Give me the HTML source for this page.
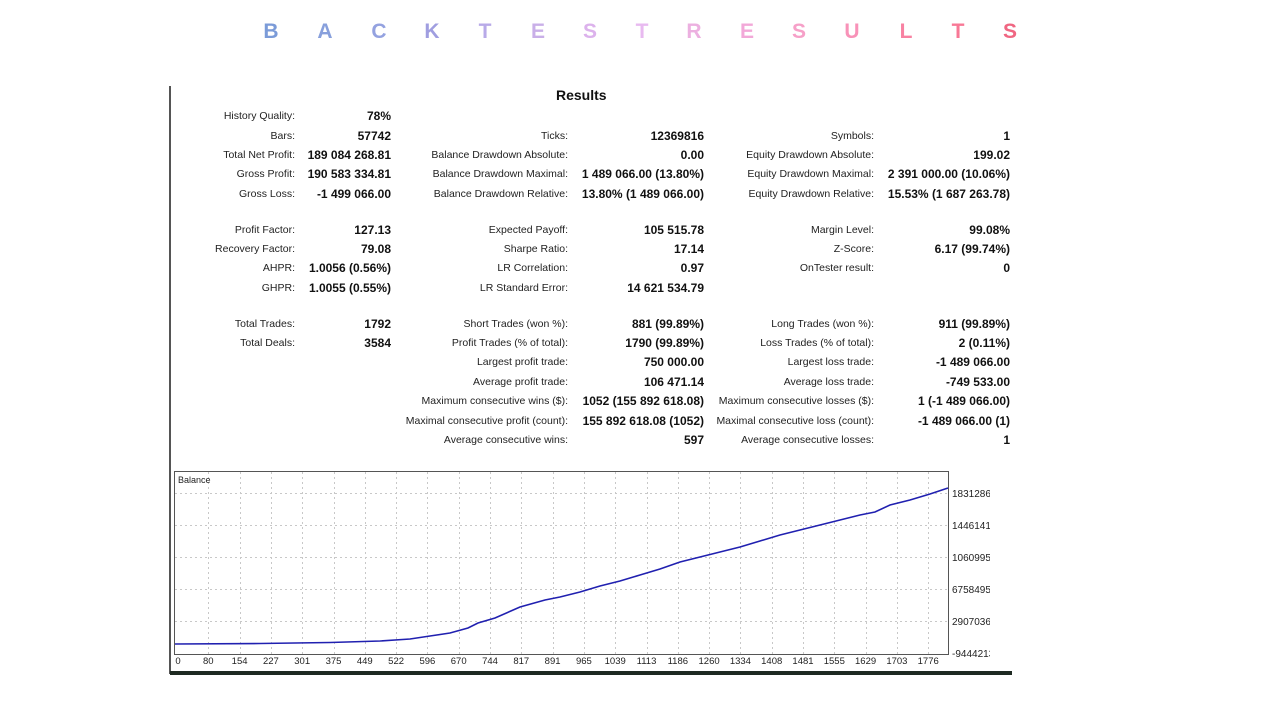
<!DOCTYPE html>
<html><head><meta charset="utf-8"><style>
body{margin:0;width:1280px;height:720px;background:#fff;position:relative;overflow:hidden;font-family:"Liberation Sans","DejaVu Sans",sans-serif;}
.t{position:absolute;top:20px;font-size:21px;font-weight:bold;transform:translateX(-50%);}
.l,.v{position:absolute;font-size:10.5px;color:#222;white-space:nowrap;line-height:13px;}
.v{font-weight:bold;color:#111;font-size:12px;}
</style></head><body>
<div class="t" style="left:271px;color:#7b9bd8">B</div>
<div class="t" style="left:325px;color:#88a0dc">A</div>
<div class="t" style="left:379px;color:#94a2e0">C</div>
<div class="t" style="left:432px;color:#a09ee0">K</div>
<div class="t" style="left:485px;color:#b8aae8">T</div>
<div class="t" style="left:538px;color:#c9afe8">E</div>
<div class="t" style="left:590px;color:#dcb2ec">S</div>
<div class="t" style="left:642px;color:#e8baf0">T</div>
<div class="t" style="left:694px;color:#ecb0e0">R</div>
<div class="t" style="left:747px;color:#f2a8d8">E</div>
<div class="t" style="left:799px;color:#f6a0c8">S</div>
<div class="t" style="left:852px;color:#f892b8">U</div>
<div class="t" style="left:906px;color:#f882a2">L</div>
<div class="t" style="left:958px;color:#f87896">T</div>
<div class="t" style="left:1010px;color:#f06682">S</div>

<div style="position:absolute;left:169px;top:86px;width:2px;height:588px;background:#555"></div>
<div style="position:absolute;left:170px;top:671px;width:842px;height:4px;background:#1e2a22"></div>
<div style="position:absolute;left:556px;top:87px;font-size:14px;font-weight:bold;color:#111">Results</div>

<div id="tbl"></div>

<svg style="position:absolute;left:0;top:0" width="1280" height="720">
<defs><clipPath id="cp"><rect x="950" y="470" width="40" height="200"/></clipPath></defs>
<rect x="174.5" y="471.5" width="774" height="183" fill="#fff" stroke="#555"/>
<g stroke="#c8c8c8" stroke-dasharray="2,3">
<line x1="175" x2="948" y1="493.5" y2="493.5"/><line x1="175" x2="948" y1="525.5" y2="525.5"/>
<line x1="175" x2="948" y1="557.5" y2="557.5"/><line x1="175" x2="948" y1="589.5" y2="589.5"/>
<line x1="175" x2="948" y1="621.5" y2="621.5"/>
</g>
<g id="vg" stroke="#c8c8c8" stroke-dasharray="2,3"></g>
<polyline fill="none" stroke="#2020b0" stroke-width="1.6" points="175,644 260,643.5 330,642.5 380,641 410,639 430,636 450,633 468,628 478,623 495,618 520,607 545,600 560,597 580,592 600,586 620,581 640,575 660,569 680,562 700,557 720,552 740,547 760,541 780,535 800,530 820,525 840,520 860,515 875,512 890,505 910,500 930,494 948,488"/>
<text x="178" y="483" font-size="9" fill="#222" font-family="Liberation Sans">Balance</text>
<g font-size="10" fill="#222" font-family="Liberation Sans" clip-path="url(#cp)">
<text x="952" y="497">1831286</text><text x="952" y="529">1446141</text>
<text x="952" y="561">1060995</text><text x="952" y="593">6758495</text>
<text x="952" y="625">2907036</text><text x="952" y="657">-9444213</text>
</g>
<g id="xl" font-size="9.5" fill="#222" font-family="Liberation Sans" text-anchor="middle"></g>
</svg>
<script>
var L=[0,80,154,227,301,375,449,522,596,670,744,817,891,965,1039,1113,1186,1260,1334,1408,1481,1555,1629,1703,1776];
var xl=document.getElementById('xl'),vg=document.getElementById('vg'),ns='http://www.w3.org/2000/svg';
L.forEach(function(v,i){var x=177+i*31.3;
 var t=document.createElementNS(ns,'text');t.setAttribute('x',i==0?178:x);t.setAttribute('y',664);t.textContent=v;xl.appendChild(t);
 if(i>0){var l=document.createElementNS(ns,'line');l.setAttribute('x1',Math.round(x)+.5);l.setAttribute('x2',Math.round(x)+.5);l.setAttribute('y1',472);l.setAttribute('y2',654);vg.appendChild(l);}
});
var rows=[
[115,[295,"History Quality:",391,"78%"]],
[135,[295,"Bars:",391,"57742"],[568,"Ticks:",704,"12369816"],[874,"Symbols:",1010,"1"]],
[154,[295,"Total Net Profit:",391,"189 084 268.81"],[568,"Balance Drawdown Absolute:",704,"0.00"],[874,"Equity Drawdown Absolute:",1010,"199.02"]],
[173,[295,"Gross Profit:",391,"190 583 334.81"],[568,"Balance Drawdown Maximal:",704,"1 489 066.00 (13.80%)"],[874,"Equity Drawdown Maximal:",1010,"2 391 000.00 (10.06%)"]],
[193,[295,"Gross Loss:",391,"-1 499 066.00"],[568,"Balance Drawdown Relative:",704,"13.80% (1 489 066.00)"],[874,"Equity Drawdown Relative:",1010,"15.53% (1 687 263.78)"]],
[229,[295,"Profit Factor:",391,"127.13"],[568,"Expected Payoff:",704,"105 515.78"],[874,"Margin Level:",1010,"99.08%"]],
[248,[295,"Recovery Factor:",391,"79.08"],[568,"Sharpe Ratio:",704,"17.14"],[874,"Z-Score:",1010,"6.17 (99.74%)"]],
[267,[295,"AHPR:",391,"1.0056 (0.56%)"],[568,"LR Correlation:",704,"0.97"],[874,"OnTester result:",1010,"0"]],
[287,[295,"GHPR:",391,"1.0055 (0.55%)"],[568,"LR Standard Error:",704,"14 621 534.79"]],
[323,[295,"Total Trades:",391,"1792"],[568,"Short Trades (won %):",704,"881 (99.89%)"],[874,"Long Trades (won %):",1010,"911 (99.89%)"]],
[342,[295,"Total Deals:",391,"3584"],[568,"Profit Trades (% of total):",704,"1790 (99.89%)"],[874,"Loss Trades (% of total):",1010,"2 (0.11%)"]],
[361,[568,"Largest profit trade:",704,"750 000.00"],[874,"Largest loss trade:",1010,"-1 489 066.00"]],
[381,[568,"Average profit trade:",704,"106 471.14"],[874,"Average loss trade:",1010,"-749 533.00"]],
[400,[568,"Maximum consecutive wins ($):",704,"1052 (155 892 618.08)"],[874,"Maximum consecutive losses ($):",1010,"1 (-1 489 066.00)"]],
[420,[568,"Maximal consecutive profit (count):",704,"155 892 618.08 (1052)"],[874,"Maximal consecutive loss (count):",1010,"-1 489 066.00 (1)"]],
[439,[568,"Average consecutive wins:",704,"597"],[874,"Average consecutive losses:",1010,"1"]]];
var h='';rows.forEach(function(r){var y=r[0]-5;for(var i=1;i<r.length;i++){var c=r[i];
h+='<div class="l" style="top:'+y+'px;right:'+(1280-c[0])+'px">'+c[1]+'</div><div class="v" style="top:'+y+'px;right:'+(1280-c[2])+'px">'+c[3]+'</div>';}});
document.getElementById('tbl').innerHTML=h;
</script>
</body></html>
